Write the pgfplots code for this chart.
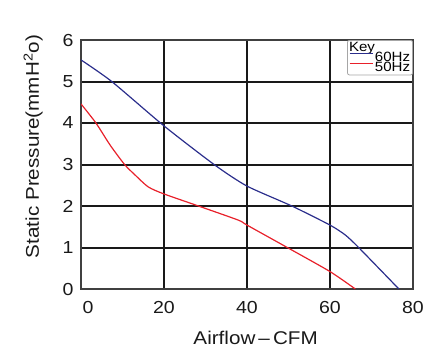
\documentclass[border=0pt]{standalone}
\usepackage{pgfplots}
\pgfplotsset{compat=1.18}
\usepackage{fontspec}
\setmainfont[FakeStretch=1.12]{Liberation Sans}
\definecolor{navy}{HTML}{2B2E8C}
\definecolor{fanred}{HTML}{E8202A}
\begin{document}
\begin{tikzpicture}[x=1bp,y=1bp]
\useasboundingbox (0,0) rectangle (423,348);
\begin{axis}[
  at={(81bp,59bp)}, anchor=south west,
  scale only axis, width=332bp, height=249bp,
  xmin=0, xmax=80, ymin=0, ymax=6,
  xtick={0,20,40,60,80}, ytick={0,1,2,3,4,5,6},
  xticklabels={\hspace*{14pt}0,20,40,60,80},
  grid=major,
  major grid style={black!90, line width=2bp},
  axis line style={black!75, line width=2bp},
  major tick length=0pt,
  /pgf/number format/assume math mode=true,
  tick label style={font=\fontsize{17.5}{20}\selectfont, black!90},
  xticklabel style={yshift=-9pt},
  yticklabel style={xshift=-4pt},
  xlabel={Airflow\,--\,CFM},
  ylabel={Static Pressure(mmH\textsuperscript{2}o)},
  label style={font=\fontsize{18.5}{20}\selectfont, black!90},
  xlabel style={at={(axis description cs:0.526,-0.222)}, anchor=base},
  ylabel style={at={(axis description cs:-0.127,0.572)}, anchor=base},
  legend style={at={(1,1)}, anchor=north east, draw=black!35, fill=white,
    rounded corners=2pt, line width=0.8pt,
    font=\fontsize{13.5}{13}\selectfont, row sep=-2pt, inner sep=1.5pt,
    nodes={inner ysep=0.5pt, inner xsep=1pt}},
  legend cell align=left,
  legend image post style={xscale=1.4, yshift=4pt},
]
\addlegendimage{empty legend}
\addlegendentry{\hspace*{-26pt}Key}
\addplot[navy, line width=1.2pt, smooth, tension=0.4] coordinates {
 (0,5.52) (7.4,5.0) (20,3.93) (32.2,2.99) (40,2.48) (50.8,2.0) (60,1.54) (63.7,1.30) (66.9,1.0) (76.6,0)
};
\addlegendentry{60Hz}
\addplot[fanred, line width=1.2pt, smooth, tension=0.4] coordinates {
 (0,4.46) (3.6,4.0) (7,3.47) (10.5,3.0) (13,2.75) (16.2,2.46) (20,2.29) (28.3,2.0) (37.9,1.66) (40,1.54) (49.7,1.0) (60,0.42) (66.1,0)
};
\addlegendentry{50Hz}
\node[anchor=base east, font=\fontsize{17.5}{20}\selectfont, black!90, inner sep=0pt] at (axis description cs:1.0,1.0) [yshift=10pt] {G12025H};
\end{axis}
\end{tikzpicture}
\end{document}
